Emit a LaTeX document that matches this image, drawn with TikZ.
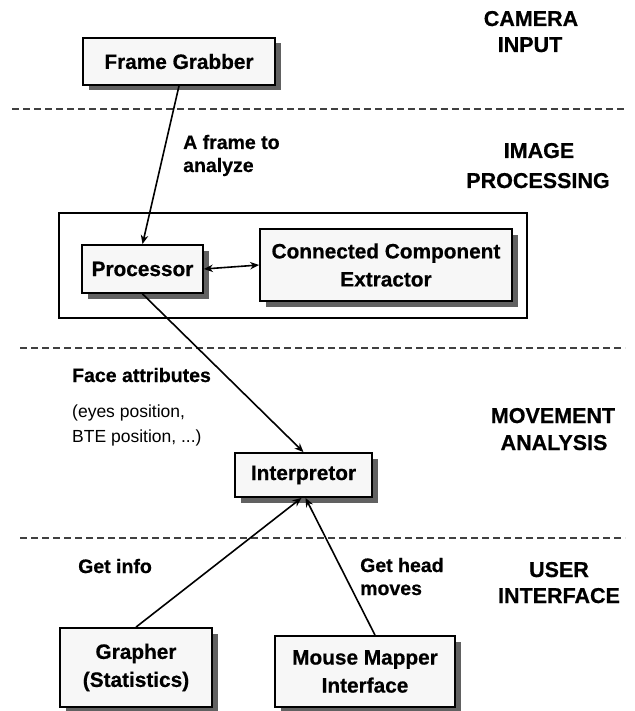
\documentclass[tikz,border=0pt]{standalone}
\usepackage{fontspec}
\setmainfont{Liberation Sans}
\newfontfamily\heavyfont{Liberation Sans Bold}[FakeBold=0.6]
\usetikzlibrary{shadows,arrows.meta}
\begin{document}
\begin{tikzpicture}[x=1pt,y=-1pt,
  box/.style={draw=black, line width=1.8pt, fill=gray!6, inner sep=0pt, align=center,
    font=\fontsize{20.8}{28}\selectfont\heavyfont,
    drop shadow={shadow xshift=5.5pt, shadow yshift=-5.5pt, fill=black!62, opacity=1}},
  frame/.style={draw=black, line width=1.5pt, inner sep=0pt},
  lbl/.style={anchor=base west, inner sep=0pt, font=\fontsize{19.5}{22}\selectfont\heavyfont},
  small/.style={anchor=base west, inner sep=0pt, font=\fontsize{17.5}{20}\selectfont},
  section/.style={anchor=base, inner sep=0pt, font=\fontsize{21.5}{26}\selectfont\heavyfont},
  sep/.style={dash pattern=on 7pt off 4pt, line width=1.5pt, black!75},
  arr/.style={line width=1.6pt, -{Stealth[length=9pt,width=7.5pt]}},
  darr/.style={line width=1.6pt, {Stealth[length=9pt,width=7.5pt]}-{Stealth[length=9pt,width=7.5pt]}},
]
\useasboundingbox (0,0) rectangle (634,711);

% separators
\draw[sep] (12,109) -- (625,109);
\draw[sep] (20,348) -- (625,348);
\draw[sep] (20,538) -- (625,538);

% section titles
\node[section] (t1a) at (531,26) {CAMERA};
\node[section] (t1b) at (530,52) {INPUT};
\node[section] (t2a) at (539,158) {IMAGE};
\node[section] (t2b) at (538,188) {PROCESSING};
\node[section] (t3a) at (553,423) {MOVEMENT};
\node[section] (t3b) at (554,450) {ANALYSIS};
\node[section] (t4a) at (559,577) {USER};
\node[section] (t4b) at (559,603) {INTERFACE};

% boxes
\node[frame, minimum width=468pt, minimum height=105pt] (outer) at (293,265.5) {};
\node[box, minimum width=192pt, minimum height=47pt] (fg) at (179,61.5) {Frame Grabber};
\node[box, minimum width=121pt, minimum height=48pt] (proc) at (142.5,269) {Processor};
\node[box, minimum width=252pt, minimum height=72pt] (cce) at (386,265) {Connected Component\\Extractor};
\node[box, minimum width=137pt, minimum height=44pt] (interp) at (303.5,475) {Interpretor};
\node[box, minimum width=152pt, minimum height=79pt] (graph) at (136,667.5) {Grapher\\(Statistics)};
\node[box, minimum width=180pt, minimum height=71pt] (mouse) at (365,671.5) {Mouse Mapper\\Interface};

% connectors
\draw[arr] (fg.south) -- (proc.north);
\draw[darr] (proc.east) -- (cce.west);
\draw[arr] (proc.south) -- (interp.north);
\draw[arr] (graph.north) -- ([xshift=-2pt]interp.south);
\draw[arr] ([xshift=10pt]mouse.north) -- ([xshift=2pt]interp.south);

% labels
\node[lbl] (l1a) at (183,149) {A frame to};
\node[lbl] (l1b) at (183,172) {analyze};
\node[lbl] (l2a) at (72,382) {Face attributes};
\node[small] (l2b) at (72,417) {(eyes position,};
\node[small] (l2c) at (72,442) {BTE position, ...)};
\node[lbl] (l3) at (78,573) {Get info};
\node[lbl] (l4a) at (360,572) {Get head};
\node[lbl] (l4b) at (360,595) {moves};
\end{tikzpicture}
\end{document}
